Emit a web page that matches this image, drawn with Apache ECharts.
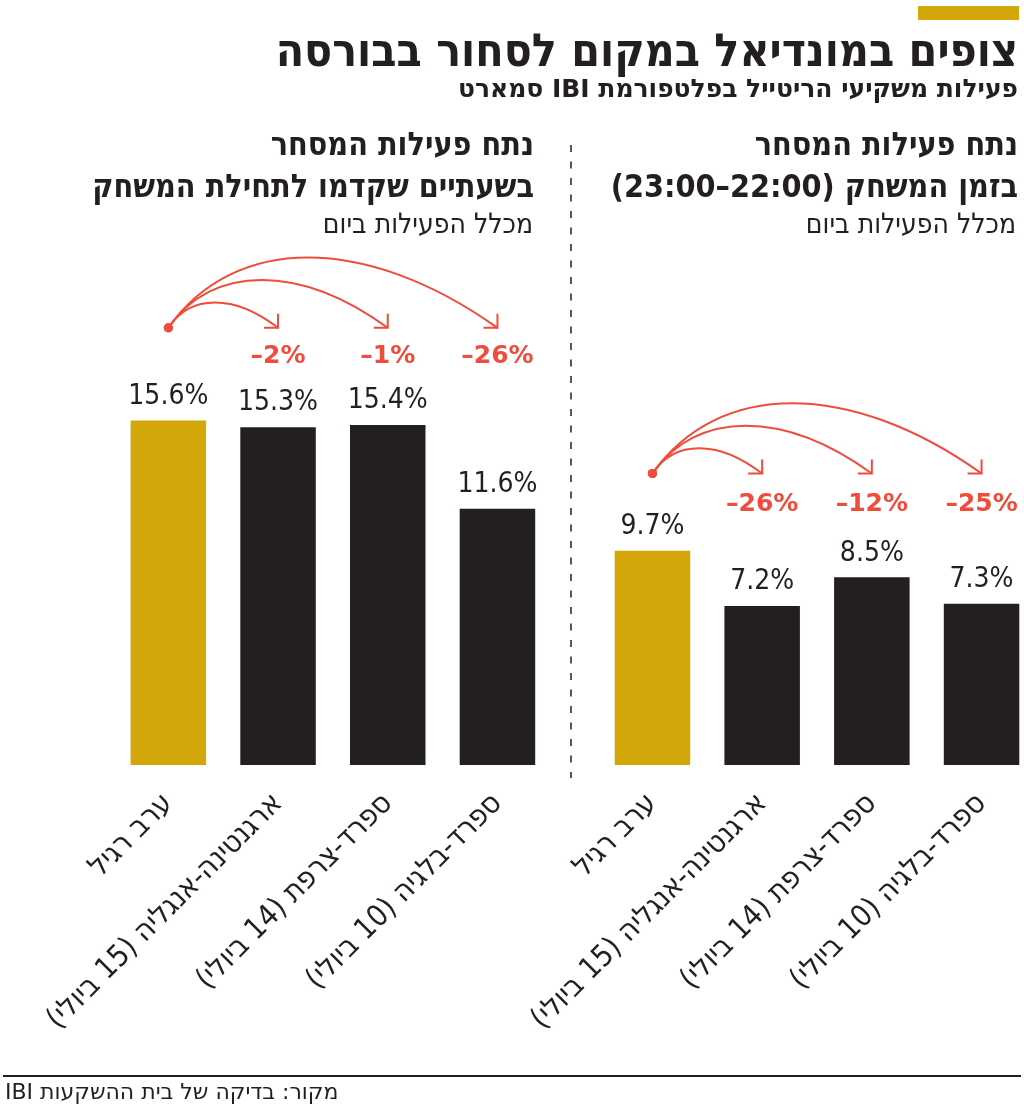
<!DOCTYPE html>
<html dir="rtl">
<head>
<meta charset="utf-8">
<script src="https://cdn.jsdelivr.net/npm/echarts@6/dist/echarts.min.js"></script>
<style>
  html, body { margin: 0; padding: 0; background: #fff; }
  #ec { width: 1024px; height: 1110px; }
</style>
</head>
<body>
<div id="ec"></div>
<script>
// categories (same for both panels)
const categories = [
  "ערב רגיל",
  "ארגנטינה-אנגליה (15 ביולי)",
  "ספרד-צרפת (14 ביולי)",
  "ספרד-בלגיה (10 ביולי)",
];
// left panel: two hours before kick-off
const beforeValues = [15.6, 15.3, 15.4, 11.6];
const beforeChange = [-2, -1, -26];
// right panel: during the match (22:00-23:00)
const duringValues = [9.7, 7.2, 8.5, 7.3];
const duringChange = [-26, -12, -25];

const GOLD = "#d3a60a";
const DARK = "#231f20";
const RED = "#f04b3b";
const HEB = '"DejaVu Sans Condensed", "DejaVu Sans", sans-serif';
const WIDE = '"DejaVu Sans", sans-serif';

function barData(values) {
  return values.map((v, i) => ({
    value: v,
    itemStyle: { color: i === 0 ? GOLD : DARK },
  }));
}

function changeData(changes) {
  return changes.map((c, i) => [i + 1, c]);
}

// curved arrows from the "regular evening" bar to each match bar
function arrowRenderer(dotLevel, labelLevel) {
  return function (params, api) {
    const idx = api.value(0);
    const change = api.value(1);
    const start = api.coord([0, dotLevel]);
    const end = api.coord([idx, dotLevel]);
    const lbl = api.coord([idx, labelLevel]);
    const x0 = start[0], y0 = start[1];
    const dx = end[0] - x0;
    const h = 0.21 * dx + 3;
    const line = { stroke: RED, lineWidth: 2, fill: null };
    return {
      type: "group",
      children: [
        {
          type: "bezierCurve",
          shape: {
            x1: x0, y1: y0,
            cpx1: x0 + 0.2 * dx, cpy1: y0 - 1.3 * h,
            cpx2: x0 + 0.6 * dx, cpy2: y0 - 1.3 * h,
            x2: end[0], y2: end[1],
          },
          style: line,
        },
        {
          type: "polyline",
          shape: { points: [[end[0], end[1] - 14], [end[0], end[1]], [end[0] - 14, end[1]]] },
          style: line,
        },
        { type: "circle", shape: { cx: x0, cy: y0, r: 4.5 }, style: { fill: RED } },
        {
          type: "text",
          x: lbl[0],
          y: lbl[1],
          style: {
            text: "\u200E\u2013" + Math.abs(change) + "%",
            align: "center",
            verticalAlign: "middle",
            font: "bold 25px " + WIDE,
            fill: RED,
          },
        },
      ],
    };
  };
}

function headingText(right, top, text, font) {
  return {
    type: "text",
    right: right,
    top: top,
    style: { text: text, font: font, fill: DARK },
  };
}

const domChart = document.getElementById("ec");
const myChart = echarts.init(domChart, null, { renderer: "canvas" });

const xAxisBase = {
  type: "category",
  data: categories,
  axisLine: { show: false },
  axisTick: { show: false },
  axisLabel: {
    rotate: 45,
    margin: 34,
    fontSize: 30,
    fontFamily: HEB,
    color: DARK,
    interval: 0,
  },
};

const yAxisBase = { type: "value", min: 0, max: 20, show: false };

const valueLabel = {
  show: true,
  position: "top",
  distance: 10,
  formatter: "{c}%",
  fontSize: 28,
  fontFamily: HEB,
  color: DARK,
};

myChart.setOption({
  animation: false,
  grid: [
    { left: 113.5, top: 323.4, width: 438.8, height: 441.6, outerBoundsMode: "none" },
    { left: 597.6, top: 323.4, width: 438.8, height: 441.6, outerBoundsMode: "none" },
  ],
  xAxis: [
    Object.assign({ gridIndex: 0 }, xAxisBase),
    Object.assign({ gridIndex: 1 }, xAxisBase),
  ],
  yAxis: [
    Object.assign({ gridIndex: 0 }, yAxisBase),
    Object.assign({ gridIndex: 1 }, yAxisBase),
  ],
  series: [
    {
      type: "bar",
      xAxisIndex: 0,
      yAxisIndex: 0,
      barWidth: 75.5,
      data: barData(beforeValues),
      label: valueLabel,
    },
    {
      type: "bar",
      xAxisIndex: 1,
      yAxisIndex: 1,
      barWidth: 75.5,
      data: barData(duringValues),
      label: valueLabel,
    },
    {
      type: "custom",
      xAxisIndex: 0,
      yAxisIndex: 0,
      data: changeData(beforeChange),
      renderItem: arrowRenderer(19.8, 18.5),
    },
    {
      type: "custom",
      xAxisIndex: 1,
      yAxisIndex: 1,
      data: changeData(duringChange),
      renderItem: arrowRenderer(13.2, 11.8),
    },
  ],
  graphic: [
    { type: "rect", shape: { x: 918, y: 6, width: 101, height: 14 }, style: { fill: GOLD } },
    headingText(6, 31, "צופים במונדיאל במקום לסחור בבורסה", "bold 46px " + HEB),
    headingText(6, 78, "פעילות משקיעי הריטייל בפלטפורמת IBI סמארט", "bold 25px " + WIDE),
    // right panel heading
    headingText(6, 131, "נתח פעילות המסחר", "bold 32px " + HEB),
    headingText(6, 173, "בזמן המשחק (22:00–23:00)", "bold 32px " + HEB),
    headingText(8, 212, "מכלל הפעילות ביום", "28px " + HEB),
    // left panel heading
    headingText(490, 131, "נתח פעילות המסחר", "bold 32px " + HEB),
    headingText(490, 173, "בשעתיים שקדמו לתחילת המשחק", "bold 32px " + HEB),
    headingText(491, 212, "מכלל הפעילות ביום", "28px " + HEB),
    {
      type: "line",
      shape: { x1: 571, y1: 145, x2: 571, y2: 778 },
      style: { stroke: DARK, lineWidth: 1.5, lineDash: [7, 9.5] },
    },
    { type: "line", shape: { x1: 3, y1: 1076, x2: 1021, y2: 1076 }, style: { stroke: DARK, lineWidth: 2 } },
    {
      type: "text",
      left: 5,
      top: 1082,
      style: { text: "מקור: בדיקה של בית ההשקעות IBI", font: "22px " + WIDE, fill: DARK },
    },
  ],
});
</script>
</body>
</html>
